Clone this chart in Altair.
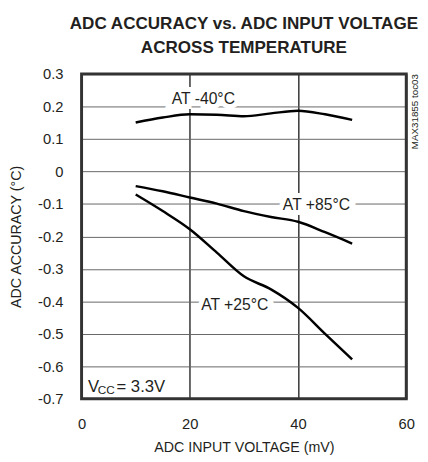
import altair as alt
import pandas as pd

# ---- data ----
x_mv = [10, 15, 20, 25, 30, 35, 40, 45, 50]
acc_m40 = [0.151, 0.166, 0.176, 0.175, 0.170, 0.179, 0.187, 0.176, 0.159]
acc_p25 = [-0.071, -0.122, -0.178, -0.250, -0.323, -0.363, -0.420, -0.500, -0.579]
acc_p85 = [-0.045, -0.061, -0.080, -0.099, -0.122, -0.140, -0.155, -0.187, -0.222]

x_ticks = [0, 20, 40, 60]
y_ticks = [-0.7, -0.6, -0.5, -0.4, -0.3, -0.2, -0.1, 0, 0.1, 0.2, 0.3]

label_text = ["AT -40°C", "AT +85°C", "AT +25°C"]
label_x = [22.5, 43.4, 28.3]
label_y = [0.222, -0.104, -0.412]

FONT = "Liberation Sans"
INK = "#231f20"

rows = []
for name, ys in [("-40", acc_m40), ("+25", acc_p25), ("+85", acc_p85)]:
    for xv, yv in zip(x_mv, ys):
        rows.append({"series": name, "x": xv, "y": yv})
df = pd.DataFrame(rows)
labels = pd.DataFrame({"text": label_text, "x": label_x, "y": label_y})
vcc = pd.DataFrame({"x": [1.2], "y": [-0.665]})
frame = pd.DataFrame({"x": [x_ticks[0]], "x2": [x_ticks[-1]], "y": [y_ticks[0]], "y2": [y_ticks[-1]]})

W, H = 331, 331

xscale = alt.Scale(domain=[0, 60], nice=False, zero=False)
yscale = alt.Scale(domain=[-0.7, 0.3], nice=False, zero=False)


def ex(field="x"):
    return alt.X(field + ":Q", scale=xscale, axis=alt.Axis(
        values=x_ticks, title="ADC INPUT VOLTAGE (mV)", grid=True,
        gridColor="#000", gridWidth=1.2, gridOpacity=1, ticks=False, domain=False,
        labelPadding=18, titlePadding=10, format="d", labelOverlap=False,
        labelFlush=False))


def ey(field="y"):
    return alt.Y(field + ":Q", scale=yscale, axis=alt.Axis(
        values=y_ticks, title="ADC ACCURACY (°C)", grid=True,
        gridColor="#666", gridWidth=1, gridOpacity=1, ticks=False, domain=False,
        labelPadding=19, titlePadding=14, labelOverlap=False, labelFlush=False,
        labelExpr="replace(format(datum.value, '.1~f'), '−', '-')"))


lines = alt.Chart(df).mark_line(color="black", strokeWidth=2.5, interpolate="monotone").encode(
    x=ex(), y=ey(), detail="series:N")

label_bg = alt.Chart(labels).mark_text(font=FONT, fontSize=16, stroke="white", strokeWidth=10,
                                       fill="white").encode(x=ex(), y=ey(), text="text:N")
label_fg = alt.Chart(labels).mark_text(font=FONT, fontSize=16, color=INK).encode(
    x=ex(), y=ey(), text="text:N")

vcc_v = alt.Chart(vcc).mark_text(font=FONT, fontSize=17, color=INK, align="left").encode(
    x=ex(), y=ey(), text=alt.value("V"))
vcc_cc = alt.Chart(vcc).mark_text(font=FONT, fontSize=12, color=INK, align="left", dx=10, dy=3).encode(
    x=ex(), y=ey(), text=alt.value("CC"))
vcc_rest = alt.Chart(vcc).mark_text(font=FONT, fontSize=17, color=INK, align="left", dx=29).encode(
    x=ex(), y=ey(), text=alt.value("= 3.3V"))

border = alt.Chart(frame).mark_rect(fillOpacity=0, stroke="#333", strokeWidth=3).encode(
    x=ex("x"), x2="x2:Q", y=ey("y"), y2="y2:Q")

side = alt.Chart(vcc).mark_text(font=FONT, fontSize=10, color=INK, angle=270, align="right",
                                baseline="middle").encode(
    x=alt.value(W + 9), y=alt.value(0), text=alt.value("MAX31855 toc03"))

chart = alt.layer(lines, label_bg, label_fg, vcc_v, vcc_cc, vcc_rest, border, side).properties(
    width=W, height=H, background="white",
    title=alt.TitleParams(text=["ADC ACCURACY vs. ADC INPUT VOLTAGE", "ACROSS TEMPERATURE"],
                          anchor="middle", font=FONT, fontSize=17.4, fontWeight="bold",
                          color=INK, offset=11, lineHeight=25),
    autosize=alt.AutoSizeParams(type="none"),
    padding={"left": 75, "top": 63, "right": 14, "bottom": 54},
).configure_axis(
    labelFont=FONT, labelFontSize=15, labelColor=INK,
    titleFont=FONT, titleFontSize=14.5, titleColor=INK, titleFontWeight="normal",
)

chart.save("out.html", embed_options={"renderer": "svg", "actions": False})
